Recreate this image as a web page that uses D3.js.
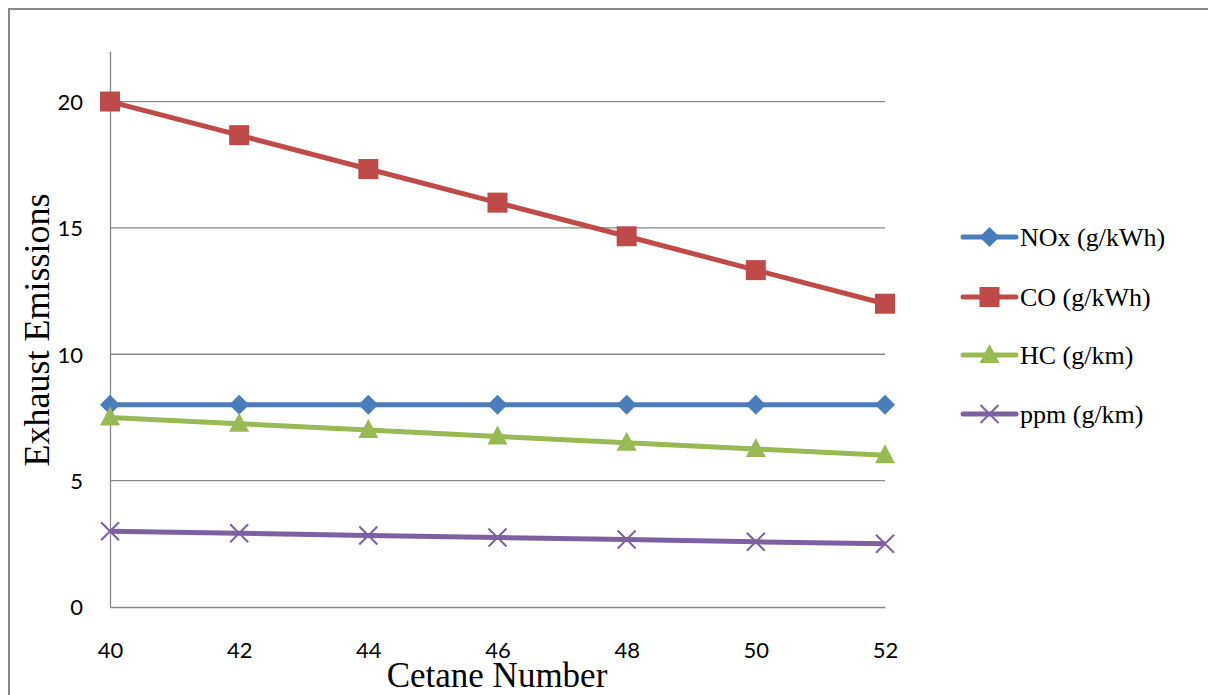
<!DOCTYPE html>
<html><head><meta charset="utf-8">
<script src="https://cdn.jsdelivr.net/npm/d3@7"></script>
<style>body{margin:0;background:#fff}svg{display:block}</style>
</head><body>
<script>
const cetane = [40, 42, 44, 46, 48, 50, 52];
const nox = [8, 8, 8, 8, 8, 8, 8];
const co = [20, 18.67, 17.33, 16, 14.67, 13.33, 12];
const hc = [7.5, 7.25, 7, 6.75, 6.5, 6.25, 6];
const ppm = [3, 2.92, 2.83, 2.75, 2.67, 2.58, 2.5];
const seriesNames = ["NOx (g/kWh)", "CO (g/kWh)", "HC (g/km)", "ppm (g/km)"];
const xTicks = [40, 42, 44, 46, 48, 50, 52];
const yTicks = [0, 5, 10, 15, 20];

const W = 1208, H = 695;
const svg = d3.select("body").append("svg").attr("width", W).attr("height", H);
const grey = "#878787";

// outer frame
svg.append("path").attr("d", "M9,700 L9,9 L1210,9").attr("fill", "none").attr("stroke", grey).attr("stroke-width", 2);

const x = d3.scaleLinear().domain([40, 52]).range([110, 885]);
const y = d3.scaleLinear().domain([0, 22]).range([607, 51]);

// gridlines
svg.append("g").selectAll("line").data(yTicks.filter(d => d > 0)).join("line")
  .attr("x1", x(40)).attr("x2", x(52)).attr("y1", d => y(d)).attr("y2", d => y(d))
  .attr("stroke", grey).attr("stroke-width", 1.3);

// axes
const yAxis = d3.axisLeft(y).tickValues(yTicks).tickSize(0).tickPadding(27).tickFormat(d3.format("d"));
const gy = svg.append("g").attr("transform", `translate(${x(40)},0)`).call(yAxis);
gy.select(".domain").attr("stroke", grey).attr("stroke-width", 1.3);
gy.selectAll("text").attr("font-family", "Lato, 'Open Sans', sans-serif").attr("font-size", 22).attr("fill", "#000").attr("dy", "0.36em");

const xAxis = d3.axisBottom(x).tickValues(xTicks).tickSize(0).tickPadding(35).tickFormat(d3.format("d"));
const gx = svg.append("g").attr("transform", `translate(0,${y(0)})`).call(xAxis);
gx.select(".domain").attr("stroke", grey).attr("stroke-width", 1.3);
gx.selectAll("text").attr("font-family", "Lato, 'Open Sans', sans-serif").attr("font-size", 22).attr("fill", "#000");

// axis titles
svg.append("text").attr("x", 497).attr("y", 687).attr("text-anchor", "middle")
  .attr("font-family", "'Liberation Serif', 'Times New Roman', serif").attr("font-size", 35).text("Cetane Number");
svg.append("text").attr("transform", "translate(49,330) rotate(-90)").attr("text-anchor", "middle")
  .attr("font-family", "'Liberation Serif', 'Times New Roman', serif").attr("font-size", 36).text("Exhaust Emissions");

const colors = ["#4A7EBB", "#BE4B48", "#98B954", "#7D60A0"];
const datasets = [nox, co, hc, ppm];
const markers = ["diamond", "square", "triangle", "x"];

function drawMarker(g, type, cx, cy, color) {
  if (type === "diamond") {
    const r = 10;
    g.append("path").attr("d", `M${cx},${cy - r}L${cx + r},${cy}L${cx},${cy + r}L${cx - r},${cy}Z`).attr("fill", color);
  } else if (type === "square") {
    const s = 10;
    g.append("rect").attr("x", cx - s).attr("y", cy - s).attr("width", 2 * s).attr("height", 2 * s).attr("fill", color);
  } else if (type === "triangle") {
    const r = 10;
    g.append("path").attr("d", `M${cx},${cy - 11}L${cx + r},${cy + 8}L${cx - r},${cy + 8}Z`).attr("fill", color);
  } else {
    const r = 9;
    g.append("path").attr("d", `M${cx - r},${cy - r}L${cx + r},${cy + r}M${cx - r},${cy + r}L${cx + r},${cy - r}`)
      .attr("stroke", color).attr("stroke-width", 2).attr("fill", "none");
  }
}

const line = d3.line().x(d => x(d[0])).y(d => y(d[1]));
datasets.forEach((vals, i) => {
  const pts = cetane.map((c, j) => [c, vals[j]]);
  const g = svg.append("g");
  g.append("path").attr("d", line(pts)).attr("fill", "none").attr("stroke", colors[i]).attr("stroke-width", 5).attr("stroke-linejoin", "round");
  pts.forEach(p => drawMarker(g, markers[i], x(p[0]), y(p[1]), colors[i]));
});

// legend
const legY = [237, 297, 355, 414];
seriesNames.forEach((name, i) => {
  const g = svg.append("g");
  g.append("line").attr("x1", 963).attr("x2", 1016).attr("y1", legY[i]).attr("y2", legY[i])
    .attr("stroke", colors[i]).attr("stroke-width", 5).attr("stroke-linecap", "round");
  drawMarker(g, markers[i], 989.5, legY[i], colors[i]);
  g.append("text").attr("x", 1020).attr("y", legY[i] + 9)
    .attr("font-family", "'Liberation Serif', 'Times New Roman', serif").attr("font-size", 26).text(name);
});
</script>
</body></html>
